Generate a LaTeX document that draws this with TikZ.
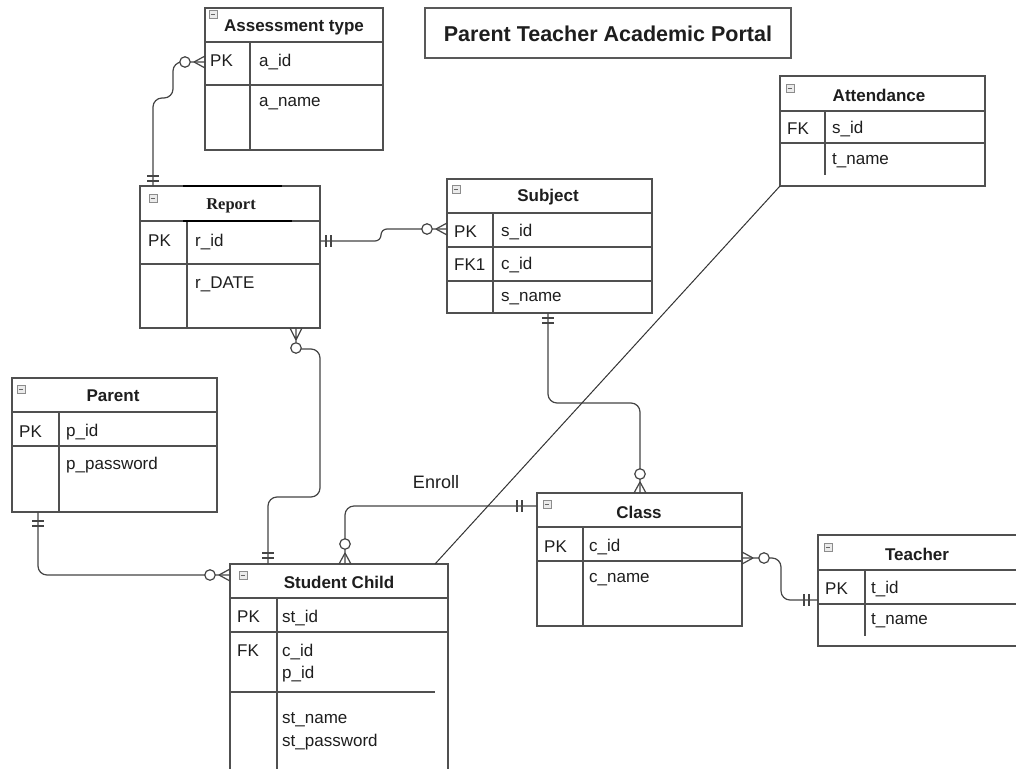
\documentclass[tikz,border=0pt]{standalone}
\usepackage{fontspec}
\setmainfont{Liberation Sans}
\newfontfamily\rptserif{Liberation Serif}
\usetikzlibrary{calc}
\definecolor{bd}{HTML}{505050}
\definecolor{tx}{HTML}{1E1E1E}
\definecolor{cn}{HTML}{454545}
\begin{document}
\begin{tikzpicture}[x=1pt,y=-1pt,
  tbl/.style={draw=bd, line width=1.2pt, anchor=north west, inner sep=0pt, outer sep=0pt, fill=white},
  sep/.style={draw=bd, line width=1.2pt},
  hdr/.style={font=\fontsize{17}{20}\selectfont\bfseries, text=tx, inner sep=0pt},
  fld/.style={font=\fontsize{17}{20}\selectfont, text=tx, anchor=west, inner sep=0pt},
  conn/.style={draw=cn, line width=1.2pt, rounded corners=9pt},
  bar/.style={draw=cn, line width=1.2pt},
  circ/.style={circle, draw=cn, line width=1.2pt, fill=white, minimum size=10.5pt, inner sep=0pt},
  icon/.style={draw=black!45, fill=black!8, minimum size=8.5pt, inner sep=0pt,
    path picture={\draw[black!60,line width=0.9pt] ([xshift=1.8pt]path picture bounding box.west) -- ([xshift=-1.8pt]path picture bounding box.east);}}
]
\clip (0,0) rectangle (1016,768);
\fill[white] (0,0) rectangle (1016,768);

% ---------- title ----------
\node[tbl, minimum width=366pt, minimum height=50pt, draw=black!65] (ttl) at (425,8) {};
\node[font=\fontsize{21.5}{24}\selectfont\bfseries, text=tx, inner sep=0pt] (ttltxt) at ($(ttl.center)+(0,1)$) {Parent Teacher Academic Portal};

% ---------- Assessment type ----------
\node[tbl, minimum width=178pt, minimum height=142pt] (asmt) at (205,8) {};
\draw[sep] (205,42) -- (383,42) (205,85) -- (383,85) (250,42) -- (250,150);
\node[icon] (asmtic) at (213,14) {};
\node[hdr] (asmth) at (294,27) {Assessment type};
\node[fld] (asmtpk) at (210,61) {PK};
\node[fld] (asmtf1) at (259,62) {a\_id};
\node[fld] (asmtf2) at (259,104) {a\_name};

% ---------- Report ----------
\node[tbl, minimum width=180pt, minimum height=142pt] (rpt) at (140,186) {};
\draw[sep] (140,221) -- (320,221) (140,264) -- (320,264) (187,221) -- (187,328);
\draw[black, line width=1.8pt] (183,186) -- (282,186) (183,221) -- (292,221);
\node[icon] (rptic) at (153,198) {};
\node[font=\fontsize{16.5}{20}\selectfont\rptserif\bfseries, text=tx, inner sep=0pt] (rpth) at (231,206) {Report};
\node[fld] (rptpk) at (148,241) {PK};
\node[fld] (rptf1) at (195,242) {r\_id};
\node[fld] (rptf2) at (195,284) {r\_DATE};

% ---------- Subject ----------
\node[tbl, minimum width=205pt, minimum height=134pt] (subj) at (447,179) {};
\draw[sep] (447,213) -- (652,213) (447,247) -- (652,247) (447,281) -- (652,281) (493,213) -- (493,313);
\node[icon] (subjic) at (456,189) {};
\node[hdr] (subjh) at (548,197) {Subject};
\node[fld] (subjpk) at (454,232) {PK};
\node[fld] (subjf1) at (501,232) {s\_id};
\node[fld] (subjfk) at (454,265) {FK1};
\node[fld] (subjf2) at (501,265) {c\_id};
\node[fld] (subjf3) at (501,299) {s\_name};

% ---------- Attendance ----------
\node[tbl, minimum width=205pt, minimum height=110pt] (att) at (780,76) {};
\draw[sep] (780,111) -- (985,111) (780,143) -- (985,143) (825,111) -- (825,175);
\node[icon] (attic) at (790,88) {};
\node[hdr] (atth) at (879,95) {Attendance};
\node[fld] (attfk) at (787,129) {FK};
\node[fld] (attf1) at (832,129) {s\_id};
\node[fld] (attf2) at (832,161) {t\_name};

% ---------- Parent ----------
\node[tbl, minimum width=205pt, minimum height=134pt] (par) at (12,378) {};
\draw[sep] (12,412) -- (217,412) (12,446) -- (217,446) (59,412) -- (59,512);
\node[icon] (paric) at (21,389) {};
\node[hdr] (parh) at (113,396) {Parent};
\node[fld] (parpk) at (19,432) {PK};
\node[fld] (parf1) at (66,432) {p\_id};
\node[fld] (parf2) at (66,465) {p\_password};

% ---------- Student Child ----------
\node[tbl, minimum width=218pt, minimum height=220pt] (stu) at (230,564) {};
\draw[sep] (230,598) -- (448,598) (230,632) -- (448,632) (230,692) -- (435,692) (277,598) -- (277,784);
\node[icon] (stuic) at (243,575) {};
\node[hdr] (stuh) at (339,582) {Student Child};
\node[fld] (stupk) at (237,617) {PK};
\node[fld] (stuf1) at (282,618) {st\_id};
\node[fld] (stufk) at (237,651) {FK};
\node[fld] (stuf2) at (282,652) {c\_id};
\node[fld] (stuf3) at (282,674) {p\_id};
\node[fld] (stuf4) at (282,720) {st\_name};
\node[fld] (stuf5) at (282,742) {st\_password};

% ---------- Class ----------
\node[tbl, minimum width=205pt, minimum height=133pt] (cls) at (537,493) {};
\draw[sep] (537,527) -- (742,527) (537,561) -- (742,561) (583,527) -- (583,626);
\node[icon] (clsic) at (547,504) {};
\node[hdr] (clsh) at (639,512) {Class};
\node[fld] (clspk) at (544,547) {PK};
\node[fld] (clsf1) at (589,547) {c\_id};
\node[fld] (clsf2) at (589,580) {c\_name};

% ---------- Teacher ----------
\node[tbl, minimum width=210pt, minimum height=111pt] (tch) at (818,535) {};
\draw[sep] (818,570) -- (1028,570) (818,604) -- (1028,604) (865,570) -- (865,636);
\node[icon] (tchic) at (828,547) {};
\node[hdr] (tchh) at (917,554) {Teacher};
\node[fld] (tchpk) at (825,589) {PK};
\node[fld] (tchf1) at (871,589) {t\_id};
\node[fld] (tchf2) at (871,621) {t\_name};

% ---------- connectors ----------
% Report -- Assessment type
\coordinate (c1s) at ($(rpt.north west)+(13,0)$);
\coordinate (c1e) at ($(asmt.north west)+(0,54)$);
\draw[conn] (c1s) -- (153,98) -- (173,98) -- (173,62) -- (c1e);
\draw[bar] (147,176) -- (159,176) (147,181) -- (159,181);
\draw[bar] (194,62) -- (205,56) (194,62) -- (205,68);
\node[circ] (c1o) at (185,62) {};

% Report -- Subject
\coordinate (c2s) at ($(rpt.north east)+(0,55)$);
\coordinate (c2e) at ($(subj.north west)+(0,50)$);
\draw[conn, rounded corners=6pt] (c2s) -- (381,241) -- (381,229) -- (c2e);
\draw[bar] (326,235) -- (326,247) (331,235) -- (331,247);
\draw[bar] (436,229) -- (447,223) (436,229) -- (447,235);
\node[circ] (c2o) at (427,229) {};

% Report -- Student Child
\coordinate (c3s) at ($(rpt.south west)+(156,0)$);
\coordinate (c3e) at ($(stu.north west)+(38,0)$);
\draw[conn] (296,349) -- (320,349) -- (320,497) -- (268,497) -- (c3e);
\draw[bar] (c3s) -- (296,342) (296,340) -- (290,328) (296,340) -- (302,328);
\node[circ] (c3o) at (296,348) {};
\draw[bar] (262,553) -- (274,553) (262,558) -- (274,558);

% Subject -- Class
\coordinate (c4s) at ($(subj.south west)+(101,0)$);
\coordinate (c4e) at ($(cls.north west)+(103,0)$);
\draw[conn] (c4s) -- (548,403) -- (640,403) -- (c4e);
\draw[bar] (542,318) -- (554,318) (542,323) -- (554,323);
\draw[bar] (640,482) -- (634,493) (640,482) -- (646,493);
\node[circ] (c4o) at (640,474) {};

% Student Child -- Class (Enroll)
\coordinate (c5s) at ($(stu.north west)+(115,0)$);
\coordinate (c5e) at ($(cls.north west)+(0,13)$);
\draw[conn] (c5s) -- (345,506) -- (c5e);
\draw[bar] (345,553) -- (339,564) (345,553) -- (351,564);
\node[circ] (c5o) at (345,544) {};
\draw[bar] (517,500) -- (517,512) (522,500) -- (522,512);
\node[font=\fontsize{18}{21}\selectfont, text=tx, inner sep=0pt] (enroll) at (436,482) {Enroll};

% Attendance -- Student Child
\draw[draw=black!80, line width=1pt] (att.south west) -- ($(stu.north west)+(205,0)$);

% Parent -- Student Child
\coordinate (c7s) at ($(par.south west)+(26,0)$);
\coordinate (c7e) at ($(stu.north west)+(0,11)$);
\draw[conn] (c7s) -- (38,575) -- (c7e);
\draw[bar] (32,521) -- (44,521) (32,526) -- (44,526);
\draw[bar] (219,575) -- (230,569) (219,575) -- (230,581);
\node[circ] (c7o) at (210,575) {};

% Class -- Teacher
\coordinate (c8s) at ($(cls.north east)+(0,65)$);
\coordinate (c8e) at ($(tch.north west)+(0,65)$);
\draw[conn] (c8s) -- (781,558) -- (781,600) -- (c8e);
\draw[bar] (753,558) -- (742,552) (753,558) -- (742,564);
\node[circ] (c8o) at (764,558) {};
\draw[bar] (804,594) -- (804,606) (809,594) -- (809,606);
\end{tikzpicture}
\end{document}
